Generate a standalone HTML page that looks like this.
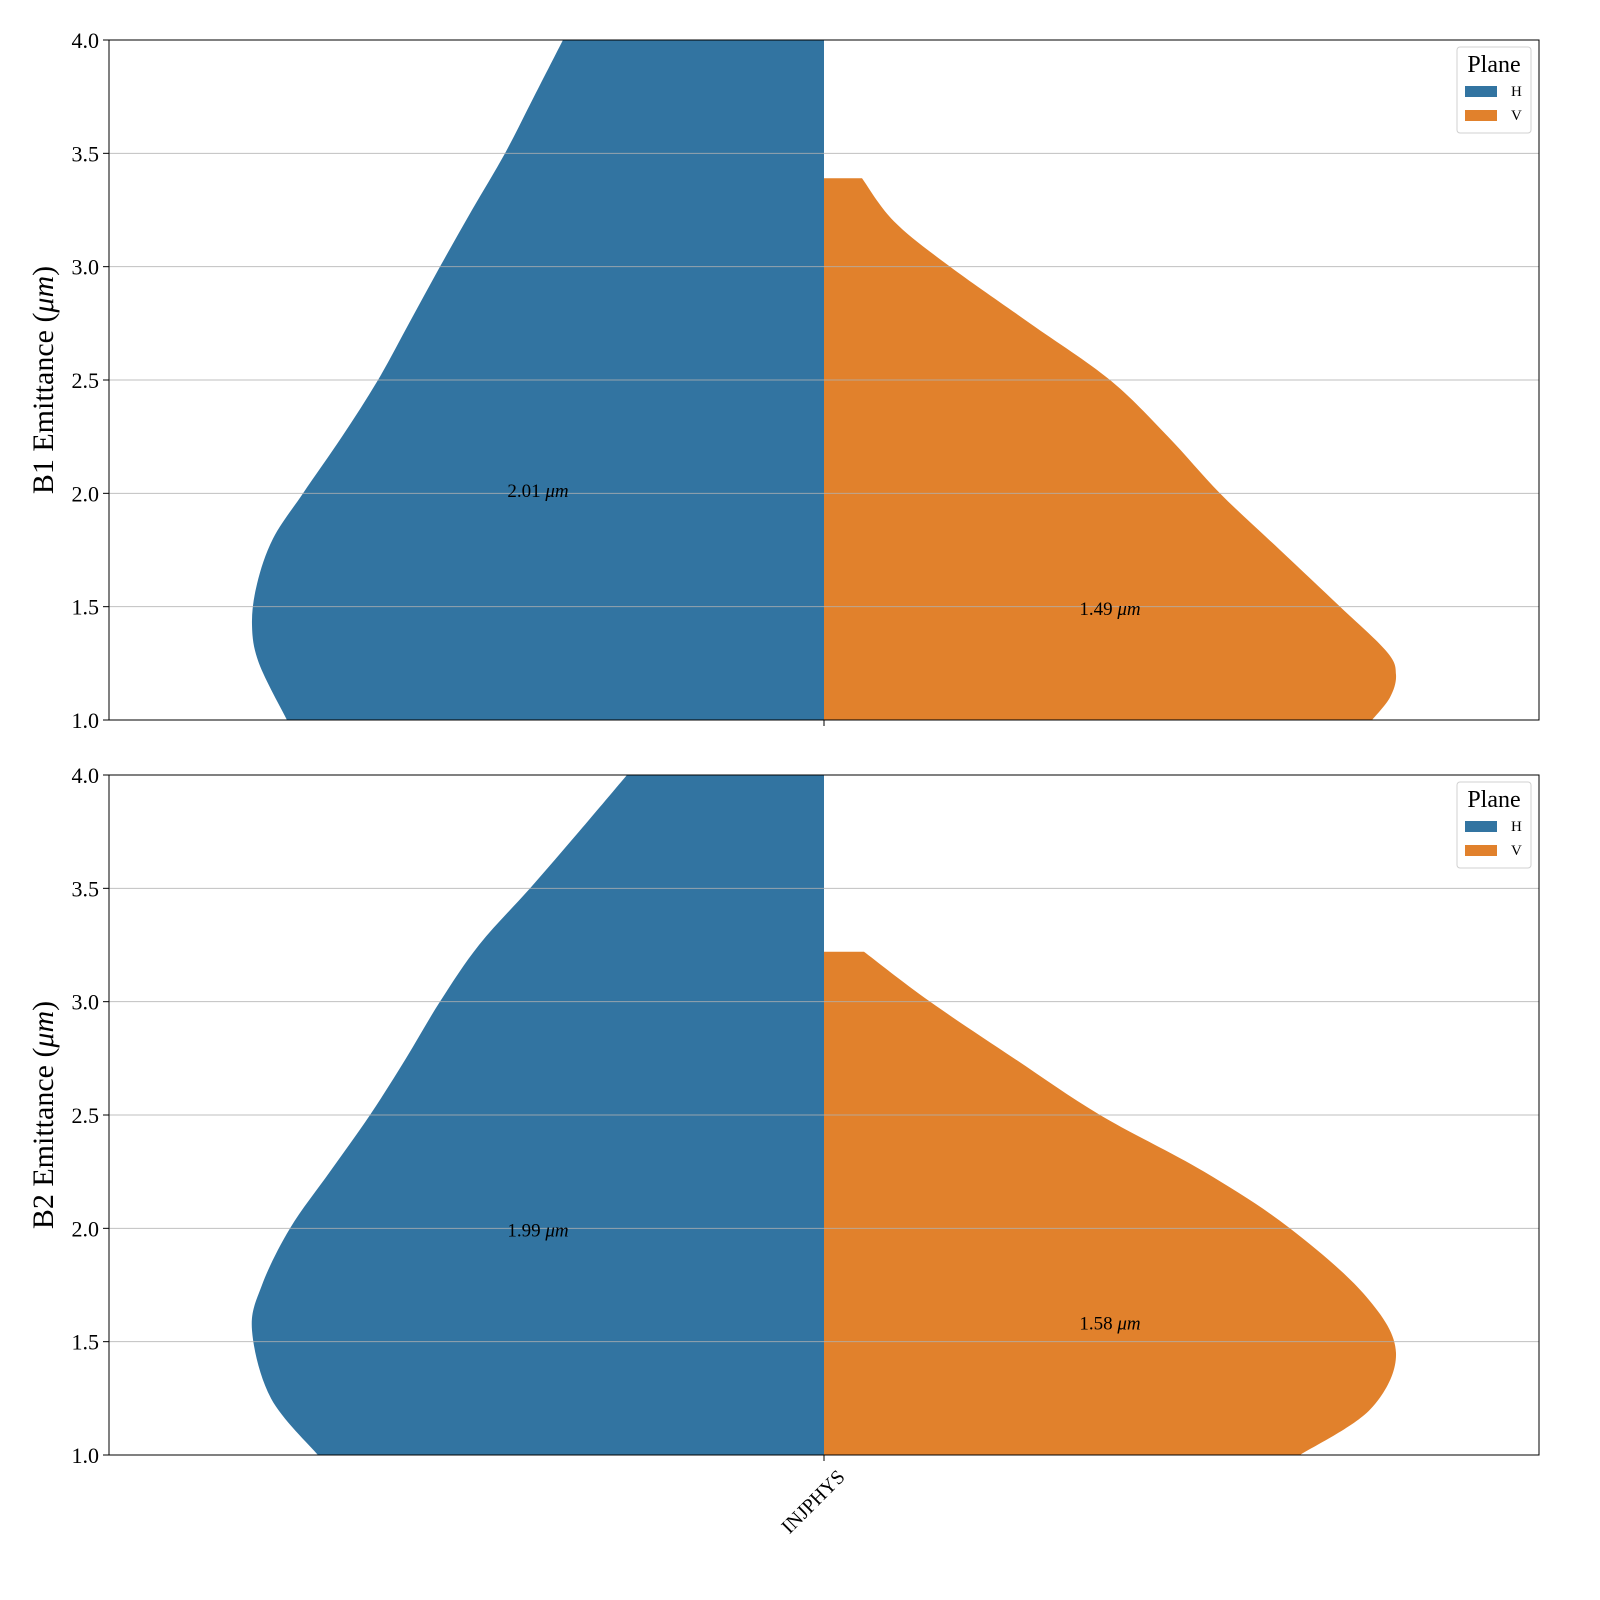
<!DOCTYPE html>
<html><head><meta charset="utf-8"><style>
html,body{margin:0;padding:0;background:#fff;overflow:hidden;width:1600px;height:1600px}
svg{display:block}
text{font-family:"Liberation Serif","DejaVu Serif",serif}
</style></head><body>
<svg id="chart" width="1600" height="1600" xmlns="http://www.w3.org/2000/svg"></svg>
<script>
const yTicks=[1.0,1.5,2.0,2.5,3.0,3.5,4.0];
const category=["INJPHYS"];
const panelLabels=["B1 Emittance (","B2 Emittance ("];
// violin profiles: emittance levels and density (arbitrary units, normalised by max)
const b1HLevels=[1.0,1.25,1.42,1.6,1.8,2.0,2.25,2.5,2.75,3.0,3.25,3.5,3.75,4.0];
const b1HDens=[537,565,572,567,551,521,482,446,415,384,352,319,290,261];
const b1VLevels=[1.0,1.1,1.2,1.3,1.5,1.75,2.0,2.25,2.5,2.75,3.0,3.2,3.39];
const b1VDens=[548,566,572,563,516,456,396,344,286,206,126,70,38];
const b2HLevels=[1.0,1.25,1.55,1.75,2.0,2.25,2.5,2.75,3.0,3.25,3.5,3.75,4.0];
const b2HDens=[506,553,572,562,534,494,454,418,384,345,294,245,197];
const b2VLevels=[1.0,1.2,1.45,1.7,2.0,2.25,2.5,2.75,3.0,3.22];
const b2VDens=[476,546,572,542,466,380,276,190,106,40];
const medians=[[2.01,1.49],[1.99,1.58]];
const panels=[{top:40,H:[b1HLevels,b1HDens],V:[b1VLevels,b1VDens]},{top:775,H:[b2HLevels,b2HDens],V:[b2VLevels,b2VDens]}];
const svg=document.getElementById('chart');
const NS='http://www.w3.org/2000/svg';
const X0=109,X1=1539,PH=680,CX=824,MAXW=572;
const maxD=Math.max(...b1HDens,...b1VDens,...b2HDens,...b2VDens);
function mk(tag,attrs,parent){const e=document.createElementNS(NS,tag);for(const k in attrs)e.setAttribute(k,attrs[k]);(parent||svg).appendChild(e);return e;}
function smooth(pts){let d='';for(let i=0;i<pts.length-1;i++){const p0=pts[Math.max(i-1,0)],p1=pts[i],p2=pts[i+1],p3=pts[Math.min(i+2,pts.length-1)];
if(i==0)d+='M'+p1[0]+','+p1[1];
d+=' C'+(p1[0]+(p2[0]-p0[0])/6)+','+(p1[1]+(p2[1]-p0[1])/6)+' '+(p2[0]-(p3[0]-p1[0])/6)+','+(p2[1]-(p3[1]-p1[1])/6)+' '+p2[0]+','+p2[1];}return d;}
panels.forEach((p,pi)=>{
 const ys=v=>p.top+PH-(v-1)/3*PH;
 const g=mk('g',{});
 
 
 const clip=mk('clipPath',{id:'c'+pi},g);mk('rect',{x:X0,y:p.top,width:X1-X0,height:PH},clip);
 [['H',-1,'#3274a1'],['V',1,'#e1812c']].forEach(([k,s,col])=>{
  const [lv,wd]=p[k];const pts=lv.map((v,i)=>[CX+s*wd[i]/maxD*MAXW,ys(v)]);
  let d=smooth(pts)+' L'+CX+','+ys(lv[lv.length-1])+' L'+CX+','+ys(lv[0])+' Z';
  const path=mk('path',{d:d,fill:col,'clip-path':'url(#c'+pi+')'},g);
  
  
 });
 yTicks.forEach(t=>{
  if(t>1&&t<4){const l=mk('line',{x1:X0,x2:X1,y1:ys(t),y2:ys(t),stroke:'#b0b0b0','stroke-width':1,opacity:0.8},g);
  }
  mk('line',{x1:X0-6,x2:X0,y1:ys(t),y2:ys(t),stroke:'#000'},g);
  const tx=mk('text',{x:X0-10,y:ys(t)+8,'text-anchor':'end','font-size':22},g);tx.textContent=t.toFixed(1);
  
 });
 const fr=mk('rect',{x:X0,y:p.top,width:X1-X0,height:PH,fill:'none',stroke:'#000','stroke-width':1},g);
 
 mk('line',{x1:CX,x2:CX,y1:p.top+PH,y2:p.top+PH+6,stroke:'#000'},g);
 const yl=mk('text',{transform:'translate(53,'+(p.top+PH/2)+') rotate(-90)','text-anchor':'middle','font-size':30},g);
 yl.innerHTML=panelLabels[pi]+'<tspan font-style="italic">μm</tspan>)';
 
 medians[pi].forEach((m,j)=>{const t=mk('text',{x:j==0?538:1110,y:ys(m)+6,'text-anchor':'middle','font-size':19},g);
  t.innerHTML=m.toFixed(2)+' <tspan font-style="italic">μm</tspan>';
  });
 const lg=mk('g',{},g);
 mk('rect',{x:1457,y:p.top+7,width:74,height:86,rx:3,fill:'#fff',stroke:'#ccc',opacity:0.9},lg);
 const lt=mk('text',{x:1494,y:p.top+32,'text-anchor':'middle','font-size':24},lg);lt.textContent='Plane';
 [['H','#3274a1'],['V','#e1812c']].forEach(([n,c],i)=>{
  const e=mk('g',{},lg);
  mk('rect',{x:1465,y:p.top+46+i*24,width:32,height:11,fill:c},e);
  const t=mk('text',{x:1511,y:p.top+56+i*24,'font-size':15},e);t.textContent=n;});
});
const xt=mk('text',{transform:'translate(846,1478) rotate(-45)','text-anchor':'end','font-size':20});
xt.textContent=category[0];


</script>
</body></html>
